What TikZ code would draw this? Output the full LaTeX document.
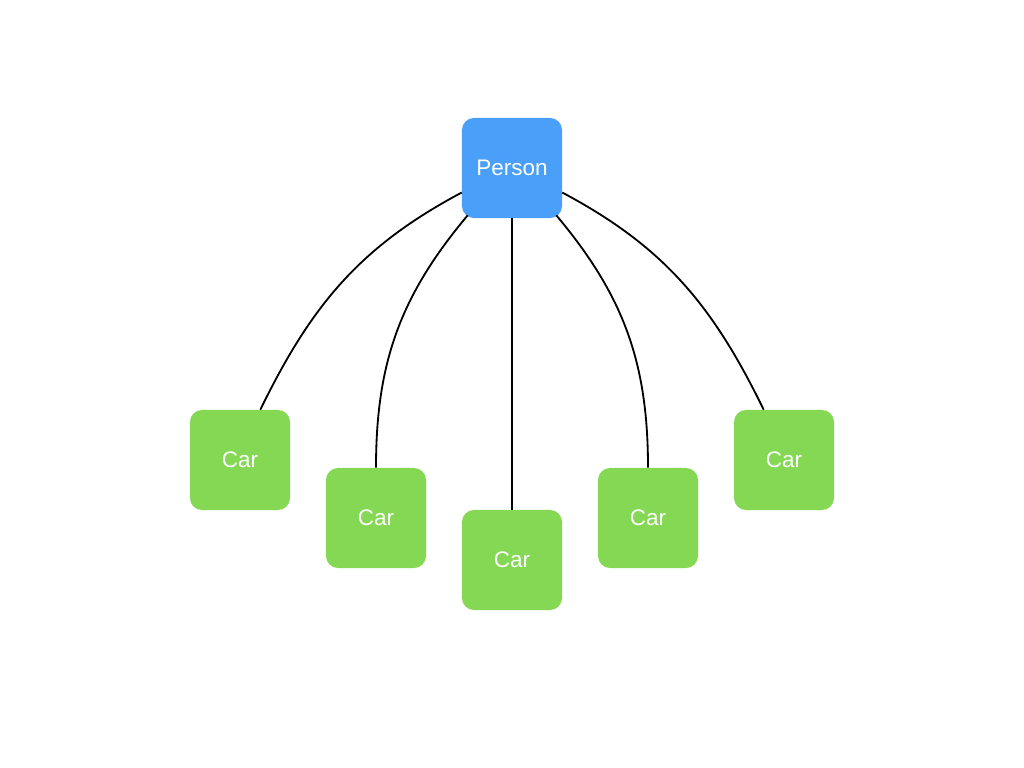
\documentclass[tikz,border=0pt]{standalone}
\usepackage{fontspec}
\setmainfont{Liberation Sans}
\definecolor{personblue}{HTML}{4A9FF9}
\definecolor{cargreen}{HTML}{84D854}

\begin{document}
\begin{tikzpicture}[x=0.025cm, y=-0.025cm,
        box/.style={rounded corners=0.3cm, minimum size=2.5cm, inner sep=0pt,
            text=white, font=\fontsize{16}{18}\selectfont},
        person/.style={box, fill=personblue},
        car/.style={box, fill=cargreen},
        link/.style={line width=1.3pt}]
        \useasboundingbox (0,0) rectangle (1024,768);
        \node[person] (P) at (512,168) {Person};
        \node[car] (C1) at (240,460) {Car};
        \node[car] (C2) at (376,518) {Car};
        \node[car] (C3) at (512,560) {Car};
        \node[car] (C4) at (648,518) {Car};
        \node[car] (C5) at (784,460) {Car};
        \draw[link] (P.206) to[out=208, in=64] (C1.68);
        \draw[link] ([shift={(6,-3)}]P.south west) to[out=230, in=90] (C2.north);
        \draw[link] (P) -- (C3);
        \draw[link] ([shift={(-6,-3)}]P.south east) to[out=-50, in=90] (C4.north);
        \draw[link] (P.334) to[out=-28, in=116] (C5.112);
    \end{tikzpicture}
\end{document}
